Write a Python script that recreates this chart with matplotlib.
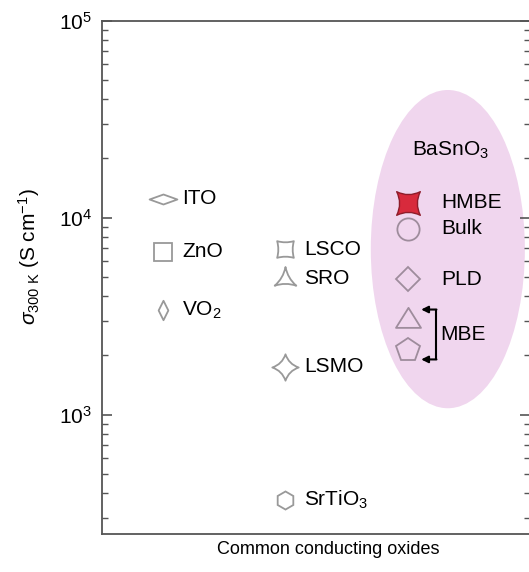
import matplotlib
matplotlib.use("Agg")
import matplotlib.pyplot as plt
import numpy as np
from matplotlib.path import Path
from matplotlib.patches import Ellipse

plt.rcParams['font.family'] = ['Liberation Sans', 'DejaVu Sans']
plt.rcParams['mathtext.fontset'] = 'custom'
plt.rcParams['mathtext.rm'] = 'Liberation Sans'
plt.rcParams['mathtext.it'] = 'Liberation Sans:italic'
plt.rcParams['mathtext.bf'] = 'Liberation Sans:bold'

# common conducting oxides (column 1 and 2)
oxides = ["ITO", "ZnO", "VO$_2$", "LSCO", "SRO", "LSMO", "SrTiO$_3$"]
oxide_col = [1, 1, 1, 2, 2, 2, 2]
oxide_sigma = [12500, 6700, 3400, 6900, 4900, 1750, 370]

# BaSnO3 (column 3)
bso = ["HMBE", "Bulk", "PLD", "MBE", "MBE"]
bso_sigma = [11900, 8800, 4870, 3080, 2120]


def concave_square(k):
    v = [(-1, -1), (0, -k), (1, -1), (k, 0), (1, 1), (0, k), (-1, 1), (-k, 0), (-1, -1), (-1, -1)]
    c = [Path.MOVETO] + [Path.CURVE3] * 8 + [Path.CLOSEPOLY]
    return Path(v, c)


def concave_triangle(k):
    pts = [(np.cos(np.radians(a)), np.sin(np.radians(a))) for a in (90, 210, 330)]
    mids = [(k * np.cos(np.radians(a)), k * np.sin(np.radians(a))) for a in (150, 270, 30)]
    v = [pts[0], mids[0], pts[1], mids[1], pts[2], mids[2], pts[0], pts[0]]
    c = [Path.MOVETO] + [Path.CURVE3] * 6 + [Path.CLOSEPOLY]
    return Path(v, c)


def star4(k):
    v = [(0, 1), (-k, k), (-1, 0), (-k, -k), (0, -1), (k, -k), (1, 0), (k, k), (0, 1), (0, 1)]
    c = [Path.MOVETO] + [Path.CURVE3] * 8 + [Path.CLOSEPOLY]
    return Path(v, c)


def poly(pts):
    pts = list(pts) + [pts[0]]
    return Path(pts, [Path.MOVETO] + [Path.LINETO] * (len(pts) - 2) + [Path.CLOSEPOLY])


wide_diamond = poly([(-1, 0), (0, 0.36), (1, 0), (0, -0.36)])
tall_diamond = poly([(0, -1), (0.5, 0), (0, 1), (-0.5, 0)])
flat_triangle = poly([(-1, -0.75), (1, -0.75), (0, 0.85)])

oxide_markers = [wide_diamond, 's', tall_diamond, concave_square(0.72),
                 concave_triangle(0.2), star4(0.25), 'h']
oxide_sizes = [20, 13, 14, 12, 18, 19, 13]

bso_markers = [concave_square(0.5), 'o', 'D', flat_triangle, 'p']
bso_sizes = [17, 16, 12, 18, 18]

fig = plt.figure(figsize=(5.29, 5.72), dpi=100)
ax = fig.add_axes([102 / 529, 38 / 572, 428 / 529, 513.3 / 572])
ax.set_yscale('log')
ax.set_xlim(0.5, 4.0)
ax.set_ylim(248, 1e5)

ax.add_patch(Ellipse((0.808, 0.555), 0.36, 0.62, transform=ax.transAxes,
                     facecolor='#f0d6ee', edgecolor='none', zorder=0))

grey = '#999999'
for name, x, y, m, s in zip(oxides, oxide_col, oxide_sigma, oxide_markers, oxide_sizes):
    ax.plot(x, y, marker=m, markersize=s, markerfacecolor='none',
            markeredgecolor=grey, markeredgewidth=1.3, linestyle='none')
    ax.annotate(name, (x, y), xytext=(13.5, 0), textcoords='offset points',
                va='center', ha='left', fontsize=15)

mauve = '#9e8c9c'
for name, y, m, s in zip(bso, bso_sigma, bso_markers, bso_sizes):
    if name == "HMBE":
        ax.plot(3, y, marker=m, markersize=s, markerfacecolor='#d82a3c',
                markeredgecolor='#8e1c2a', markeredgewidth=1.0, linestyle='none', zorder=3)
    else:
        ax.plot(3, y, marker=m, markersize=s, markerfacecolor='none',
                markeredgecolor=mauve, markeredgewidth=1.3, linestyle='none')
    if name != "MBE":
        ax.annotate(name, (3, y), xytext=(24.5, 0), textcoords='offset points',
                    va='center', ha='left', fontsize=15)

# MBE bracket
mbe_top = bso_sigma[3] * 1.11
mbe_bot = bso_sigma[4] * 0.9
xb = 3.23
ax.plot([xb, xb], [mbe_top, mbe_bot], color='black', lw=1.5)
for yy in (mbe_top, mbe_bot):
    ax.annotate('', xy=(3.11, yy), xytext=(xb + 0.005, yy),
                arrowprops=dict(arrowstyle='-|>', color='black', lw=1.5,
                                shrinkA=0, shrinkB=0, mutation_scale=10))
ax.annotate("MBE", (3, np.sqrt(bso_sigma[3] * bso_sigma[4])), xytext=(23.5, 0),
            textcoords='offset points', va='center', ha='left', fontsize=15)

ax.text(3.35, 22000, "BaSnO$_3$", ha='center', va='center', fontsize=15)

ax.set_xticks([])
ax.tick_params(axis='y', which='both', direction='in', right=True, color='#555555', labelsize=15, pad=7)
ax.tick_params(axis='y', which='major', length=7, width=1.2)
ax.tick_params(axis='y', which='minor', length=4, width=1.0)
for sp in ax.spines.values():
    sp.set_color('#555555')
    sp.set_linewidth(1.3)

ax.set_xlabel("Common conducting oxides", fontsize=13)
ax.xaxis.set_label_coords(0.528, -0.014)
ax.set_ylabel(r"$\sigma_{\mathrm{300\ K}}$ (S cm$^{-1}$)", fontsize=15)
ax.yaxis.set_label_coords(-0.14, 0.54)

fig.savefig("out.png", dpi=100)
